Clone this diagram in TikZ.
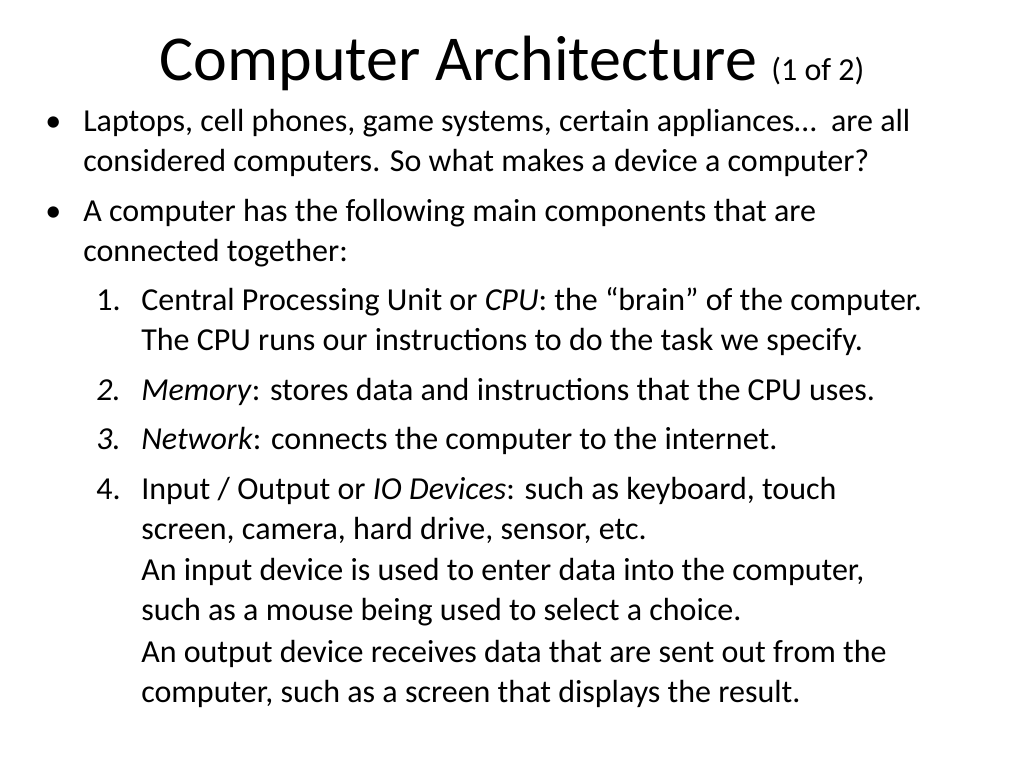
\documentclass[tikz,border=0pt]{standalone}
\usepackage{fontspec}
\setmainfont{Carlito}
\begin{document}
\begin{tikzpicture}[x=0.75pt,y=-0.75pt,
  t/.style={anchor=base west,inner sep=0pt,font=\fontsize{24}{28}\selectfont},
  n/.style={anchor=base east,inner sep=0pt,font=\fontsize{24}{28}\selectfont}]
\useasboundingbox (0,0) rectangle (1024,768);
\node[anchor=base,inner sep=0pt] (title) at (512,80) {\fontsize{48}{54}\selectfont Computer Architecture \fontsize{24}{28}\selectfont(1 of 2)};
\node[t] (b1) at (45,131) {•};
\node[t] (l1) at (83,131) {Laptops, cell phones, game systems, certain appliances…\ \ are all};
\node[t] (l2) at (83,171) {considered computers. So what makes a device a computer?};
\node[t] (b2) at (45,221) {•};
\node[t] (l3) at (83,221) {A computer has the following main components that are};
\node[t] (l4) at (83,261) {connected together:};
\node[n] (n1) at (121,310) {1.};
\node[t] (l5) at (141,310) {Central Processing Unit or \textit{CPU}: the “brain” of the computer.};
\node[t] (l6) at (141,350) {The CPU runs our instructions to do the task we specify.};
\node[n] (n2) at (121,400) {\textit{2.}};
\node[t] (l7) at (141,400) {\textit{Memory}: stores data and instructions that the CPU uses.};
\node[n] (n3) at (121,449) {\textit{3.}};
\node[t] (l8) at (141,449) {\textit{Network}: connects the computer to the internet.};
\node[n] (n4) at (121,499) {4.};
\node[t] (l9) at (141,499) {Input / Output or \textit{IO Devices}: such as keyboard, touch};
\node[t] (l10) at (141,539) {screen, camera, hard drive, sensor, etc.};
\node[t] (l11) at (141,580) {An input device is used to enter data into the computer,};
\node[t] (l12) at (141,620) {such as a mouse being used to select a choice.};
\node[t] (l13) at (141,662) {An output device receives data that are sent out from the};
\node[t] (l14) at (141,702) {computer, such as a screen that displays the result.};
\end{tikzpicture}
\end{document}
